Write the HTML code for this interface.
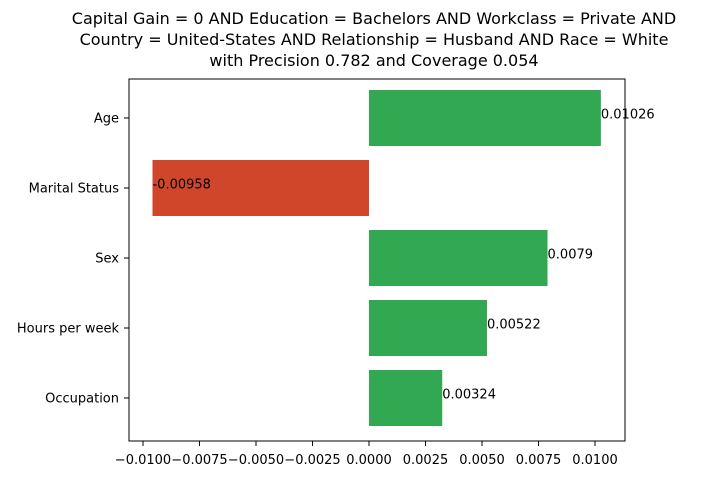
<!DOCTYPE html>
<html><head><meta charset="utf-8"><style>
body{margin:0;background:#fff;}
svg text{font-family:"DejaVu Sans","Liberation Sans",sans-serif;}
</style></head><body>
<svg id="chart" width="702" height="477" xmlns="http://www.w3.org/2000/svg">
<g>
<text x="374" y="24" font-size="16" text-anchor="middle">Capital Gain = 0 AND Education = Bachelors AND Workclass = Private AND</text>
<text x="374" y="45" font-size="16" text-anchor="middle">Country = United-States AND Relationship = Husband AND Race = White</text>
<text x="374" y="66" font-size="16" text-anchor="middle">with Precision 0.782 and Coverage 0.054</text>
</g>
<g id="bars"></g>
<g id="yticks"></g>
<g id="xticks"></g>
<rect x="129" y="79" width="496" height="362" fill="none" stroke="#000" stroke-width="1"/>
</svg>
<script>
const categories = ["Age","Marital Status","Sex","Hours per week","Occupation"];
const values = [0.01026,-0.00958,0.0079,0.00522,0.00324];
const labels = ["0.01026","-0.00958","0.0079","0.00522","0.00324"];
const xTicks = [-0.01,-0.0075,-0.005,-0.0025,0,0.0025,0.005,0.0075,0.01];
const xTickLabels = ["\u22120.0100","\u22120.0075","\u22120.0050","\u22120.0025","0.0000","0.0025","0.0050","0.0075","0.0100"];
const NS="http://www.w3.org/2000/svg";
function x(v){return 369+v*22600;}
function yc(i){return 118+i*70;}
const bars=document.getElementById('bars'), yt=document.getElementById('yticks'), xt=document.getElementById('xticks');
function mk(tag,attrs,parent){const e=document.createElementNS(NS,tag);for(const k in attrs)e.setAttribute(k,attrs[k]);parent.appendChild(e);return e;}
categories.forEach((c,i)=>{
  const v=values[i];
  const r=mk('rect',{x:Math.min(x(0),x(v)),y:yc(i)-28,width:Math.abs(x(v)-x(0)),height:56,fill:v>=0?'#33a852':'#d0462b'},bars);
  
  
  const t=mk('text',{x:x(v),y:yc(i)-3,'font-size':13,'dominant-baseline':'middle'},bars);
  t.textContent=labels[i];
  
  
  mk('line',{x1:124,x2:129,y1:yc(i),y2:yc(i),stroke:'#000'},yt);
  const yl=mk('text',{x:119,y:yc(i)+1,'font-size':13,'text-anchor':'end','dominant-baseline':'middle'},yt);
  yl.textContent=c;
  
  
});
xTicks.forEach((v,i)=>{
  mk('line',{x1:x(v),x2:x(v),y1:441,y2:446,stroke:'#000'},xt);
  const t=mk('text',{x:x(v),y:464,'font-size':13,'text-anchor':'middle'},xt);
  t.textContent=xTickLabels[i];
  
  
});
</script>
</body></html>
